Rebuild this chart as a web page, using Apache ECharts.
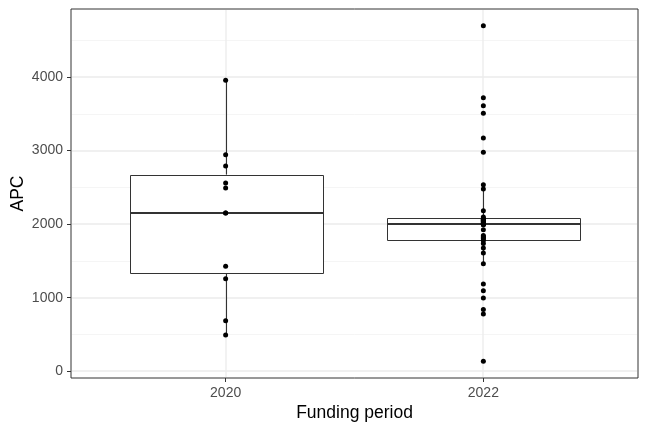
<!DOCTYPE html>
<html>
<head>
<meta charset="utf-8">
<script src="https://cdn.jsdelivr.net/npm/echarts@6/dist/echarts.min.js"></script>
<style>
html,body{margin:0;padding:0;background:#fff;}
#chart{width:648px;height:432px;}
</style>
</head>
<body>
<div id="chart"></div>
<script>
const categories = ['2020', '2022'];
const apc2020 = [3955, 2942, 2789, 2558, 2490, 2152, 2152, 1428, 1257, 687, 493];
const apc2022 = [4697, 3719, 3611, 3508, 3172, 2978, 2534, 2476, 2183, 2098,
  2077, 2068, 2060, 2052, 2045, 2038, 2030, 2022, 2015, 2008, 2001,
  2000, 2000, 1997, 1993, 1925, 1845, 1830, 1815, 1800, 1778,
  1735, 1677, 1609, 1462, 1186, 1095, 996, 838, 779, 136];
const yMajorTicks = [0, 1000, 2000, 3000, 4000];
const yMinorTicks = [500, 1500, 2500, 3500, 4500];
const xTickIdx = [0, 1];

const FONT = "'Liberation Sans', Arial, Helvetica, sans-serif";
const BOX_WIDTH = 0.75;

function quantile(sorted, p) {
  const h = (sorted.length - 1) * p;
  const lo = Math.floor(h);
  const hi = Math.min(lo + 1, sorted.length - 1);
  return sorted[lo] + (h - lo) * (sorted[hi] - sorted[lo]);
}
function boxStats(arr) {
  const s = arr.slice().sort((a, b) => a - b);
  const q1 = quantile(s, 0.25), med = quantile(s, 0.5), q3 = quantile(s, 0.75);
  const iqr = q3 - q1;
  const lowF = q1 - 1.5 * iqr, hiF = q3 + 1.5 * iqr;
  const lo = s.find(v => v >= lowF);
  const hi = s.slice().reverse().find(v => v <= hiF);
  return [lo, q1, med, q3, hi];
}
const groups = [apc2020, apc2022];
const boxData = groups.map((g, i) => [i].concat(boxStats(g)));
const pointData = [];
groups.forEach((g, i) => g.forEach(v => pointData.push([i, v])));

const allVals = apc2020.concat(apc2022);
const dMin = Math.min.apply(null, allVals), dMax = Math.max.apply(null, allVals);
const pad = (dMax - dMin) * 0.05;

const chart = echarts.init(document.getElementById('chart'), null, {renderer: 'canvas'});
chart.setOption({
  animation: false,
  backgroundColor: '#ffffff',
  grid: {left: 71, right: 10, top: 9, bottom: 54, show: true, borderColor: '#333333', borderWidth: 1,
    backgroundColor: 'transparent', containLabel: false, outerBoundsMode: 'none'},
  xAxis: {
    type: 'value', min: -0.6, max: 1.6,
    name: 'Funding period', nameLocation: 'middle', nameGap: 26, nameMoveOverlap: false,
    nameTextStyle: {fontFamily: FONT, fontSize: 17.5, color: '#000000'},
    axisLine: {show: false, onZero: false},
    splitLine: {show: false},
    axisTick: {show: true, length: 4, customValues: xTickIdx, lineStyle: {color: '#333333', width: 1}},
    axisLabel: {customValues: xTickIdx, margin: 8, fontFamily: FONT, fontSize: 14, color: '#4D4D4D',
      formatter: v => categories[Math.round(v)]}
  },
  yAxis: {
    type: 'value', min: dMin - pad, max: dMax + pad,
    name: 'APC', nameLocation: 'middle', nameGap: 44, nameRotate: 90, nameMoveOverlap: false,
    nameTextStyle: {fontFamily: FONT, fontSize: 17.5, color: '#000000'},
    axisLine: {show: false, onZero: false},
    splitLine: {show: false},
    axisTick: {show: true, length: 4, customValues: yMajorTicks, lineStyle: {color: '#333333', width: 1}},
    axisLabel: {customValues: yMajorTicks, margin: 8, fontFamily: FONT, fontSize: 14, color: '#4D4D4D',
      formatter: v => String(Math.round(v))}
  },
  series: [
    {
      type: 'custom', z: 1, silent: true,
      data: yMinorTicks.map(v => [0, v]),
      encode: {x: 0, y: 1},
      renderItem: (params, api) => {
        const cs = params.coordSys;
        const y = Math.round(api.coord([0, api.value(1)])[1]) + 0.5;
        return {type: 'line', shape: {x1: cs.x + 1, y1: y, x2: cs.x + cs.width - 1, y2: y},
          style: {stroke: '#F0F0F0', lineWidth: 0.7}};
      }
    },
    {
      type: 'custom', z: 1, silent: true,
      data: yMajorTicks.map(v => [0, v]),
      encode: {x: 0, y: 1},
      renderItem: (params, api) => {
        const cs = params.coordSys;
        const y = Math.round(api.coord([0, api.value(1)])[1]);
        return {type: 'line', shape: {x1: cs.x + 1, y1: y, x2: cs.x + cs.width - 1, y2: y},
          style: {stroke: '#EBEBEB', lineWidth: 1.3}};
      }
    },
    {
      type: 'custom', z: 1, silent: true,
      data: xTickIdx.map(i => [i, 0]),
      encode: {x: 0, y: 1},
      renderItem: (params, api) => {
        const cs = params.coordSys;
        const x = Math.round(api.coord([api.value(0), 0])[0]);
        return {type: 'line', shape: {x1: x, y1: cs.y + 1, x2: x, y2: cs.y + cs.height - 1},
          style: {stroke: '#EBEBEB', lineWidth: 1.3}};
      }
    },
    {
      type: 'custom', z: 2, silent: true,
      data: boxData,
      encode: {x: 0, y: [1, 2, 3, 4, 5]},
      renderItem: (params, api) => {
        const i = api.value(0);
        const lo = api.coord([i, api.value(1)]);
        const q1 = api.coord([i, api.value(2)]);
        const med = api.coord([i, api.value(3)]);
        const q3 = api.coord([i, api.value(4)]);
        const hi = api.coord([i, api.value(5)]);
        const hw = api.size([BOX_WIDTH, 0])[0] / 2;
        const cx = Math.round(lo[0]) + 0.5;
        const st = {stroke: '#333333', lineWidth: 1.1};
        return {type: 'group', children: [
          {type: 'line', shape: {x1: cx, y1: lo[1], x2: cx, y2: q1[1]}, style: st},
          {type: 'line', shape: {x1: cx, y1: q3[1], x2: cx, y2: hi[1]}, style: st},
          {type: 'rect', shape: {x: Math.round(cx - hw) + 0.5, y: Math.round(q3[1]) + 0.5, width: Math.round(2 * hw), height: Math.round(q1[1] - q3[1])},
            style: {fill: '#ffffff', stroke: '#333333', lineWidth: 1}},
          {type: 'line', shape: {x1: Math.round(cx - hw) + 0.5, y1: med[1], x2: Math.round(cx + hw) + 0.5, y2: med[1]},
            style: {stroke: '#333333', lineWidth: 2}}
        ]};
      }
    },
    {
      type: 'scatter', z: 3, silent: true,
      data: pointData,
      symbol: 'circle', symbolSize: 5,
      itemStyle: {color: '#000000', opacity: 1}
    }
  ]
});
</script>
</body>
</html>
